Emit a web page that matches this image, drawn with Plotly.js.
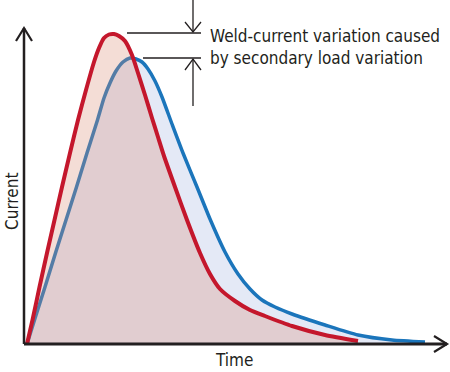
<!DOCTYPE html>
<html>
<head>
<meta charset="utf-8">
<script src="https://cdn.plot.ly/plotly-3.0.1.min.js"></script>
<style>html,body{margin:0;padding:0;background:#fff;}#chart{width:450px;height:372px;}</style>
</head>
<body>
<div id="chart"></div>
<script>
// Time / current samples (arbitrary units)
const redTime = [3, 8.5, 15.5, 23, 30.5, 38, 46, 54, 62, 70, 75, 80, 85, 90, 95, 101, 108, 114, 121, 128, 134, 140, 151, 163, 176, 186, 196, 211, 226, 241, 268, 301, 334];
const redCurrent = [0, 24, 57, 91, 124, 157, 191, 224, 254, 282, 296, 306, 309.5, 310, 308, 303, 289, 271, 249, 226, 207, 188, 157, 124, 91, 70, 55, 43, 34, 28, 18, 9, 3];
const blueTime = [3, 10.5, 21, 31.5, 42, 52.5, 63, 73.5, 80, 86, 92, 99, 106, 112, 118, 124, 131, 138, 148, 159, 173, 186, 201, 214, 226, 238, 251, 268, 301, 334, 368, 401];
const blueCurrent = [0, 24, 57, 91, 124, 157, 191, 224, 246, 261, 273, 282, 286, 285, 282, 275, 263, 247, 220, 191, 157, 125, 92, 70, 55, 44, 37, 30, 19, 9, 4, 2];
const xLabel = "Time";
const yLabel = "Current";
const noteText = "Weld-current variation caused<br>by secondary load variation";

const FONT = "Liberation Sans Narrow, DejaVu Sans Condensed, Arial Narrow, sans-serif";
const INK = "#231f20";

// decoration helper: pixel -> data coords (plot area covers the full figure)
const X = px => px - 24;
const Y = py => 344 - py;
const path = pts => pts.map((p, i) => (i ? "L" : "M") + X(p[0]) + "," + Y(p[1])).join(" ");
const line = (pts, w) => ({type: "path", xref: "x", yref: "y", path: path(pts), line: {color: INK, width: w}, layer: "above"});

const traces = [
  {x: blueTime, y: blueCurrent, type: "scatter", mode: "lines", fill: "tozeroy",
   fillcolor: "#e4e9f6", line: {color: "#1b75bb", width: 3.5, shape: "spline", smoothing: 0.6}, hoverinfo: "skip"},
  {x: redTime, y: redCurrent, type: "scatter", mode: "lines", fill: "tozeroy",
   fillcolor: "rgba(218,142,118,0.3)", line: {color: "#c4172c", width: 4, shape: "spline", smoothing: 0.6}, hoverinfo: "skip"}
];

const shapes = [
  line([[24, 344], [24, 28]], 2.5),
  line([[16, 41], [24, 28], [32, 41]], 2.2),
  line([[24, 344], [447, 344]], 3),
  line([[434, 336], [447, 344], [434, 352]], 2.2),
  line([[127, 33], [201, 33]], 1.3),
  line([[143, 58], [201, 58]], 1.3),
  line([[193, 0], [193, 32]], 1.3),
  line([[185, 22], [193, 32], [201, 22]], 1.3),
  line([[193, 106], [193, 59]], 1.3),
  line([[185, 70], [193, 59], [201, 70]], 1.3)
];

const annotations = [
  {x: X(12), y: Y(202), xref: "x", yref: "y", text: yLabel, showarrow: false, textangle: -90,
   font: {family: FONT, size: 17, color: INK}},
  {x: X(234), y: Y(360), xref: "x", yref: "y", text: xLabel, showarrow: false,
   font: {family: FONT, size: 17, color: INK}},
  {x: X(208), y: Y(24), xref: "x", yref: "y", text: noteText, showarrow: false, align: "left",
   xanchor: "left", yanchor: "top", font: {family: FONT, size: 17, color: INK}}
];

const layout = {
  width: 450, height: 372,
  margin: {l: 0, r: 0, t: 0, b: 0},
  paper_bgcolor: "#fff", plot_bgcolor: "#fff",
  showlegend: false,
  xaxis: {range: [-24, 426], visible: false, fixedrange: true},
  yaxis: {range: [-28, 344], visible: false, fixedrange: true},
  shapes: shapes,
  annotations: annotations
};

Plotly.newPlot("chart", traces, layout, {displayModeBar: false, staticPlot: true});
</script>
</body>
</html>
